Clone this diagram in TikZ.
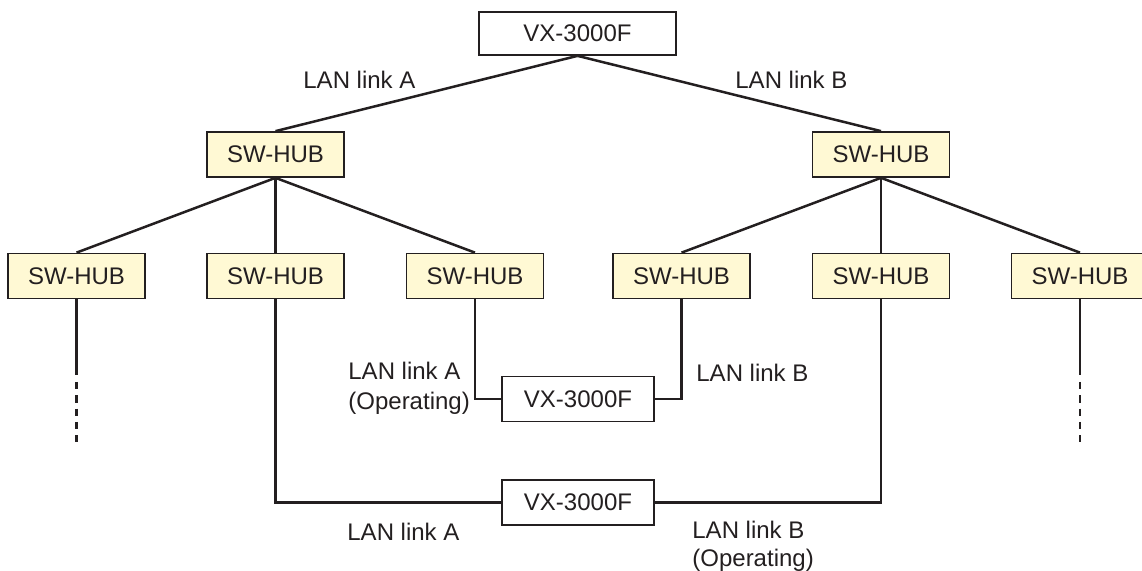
\documentclass[tikz,border=0pt]{standalone}
\usepackage{fontspec}
\setmainfont{Liberation Sans}
\definecolor{hubfill}{HTML}{FFF9D4}
\definecolor{ink}{HTML}{231F20}
\begin{document}
\begin{tikzpicture}[x=0.5pt,y=-0.5pt,
  font=\fontsize{12}{14.5}\selectfont,
  box/.style={draw=ink, line width=0.85pt, inner sep=0pt, minimum height=22.5pt, text=ink},
  hub/.style={box, fill=hubfill, minimum width=68.5pt},
  vx/.style={box, fill=white, minimum width=76pt},
  link/.style={draw=ink, line width=1.25pt},
  dashlink/.style={link, dash pattern=on 3.65pt off 3pt},
  lbl/.style={text=ink, inner sep=0pt, align=left, anchor=west}]
\useasboundingbox (0,0) rectangle (1142,571);

% devices
\node[vx, minimum width=98.5pt, minimum height=21.5pt] (top) at (577.5,33.5) {VX-3000F};
\node[hub] (L) at (275.5,154.5) {SW-HUB};
\node[hub] (R) at (881,154.5) {SW-HUB};
\node[hub] (h1) at (76.5,276) {SW-HUB};
\node[hub] (h2) at (275.5,276) {SW-HUB};
\node[hub] (h3) at (475,276) {SW-HUB};
\node[hub] (h4) at (681.5,276) {SW-HUB};
\node[hub] (h5) at (881,276) {SW-HUB};
\node[hub] (h6) at (1080,276) {SW-HUB};
\node[vx] (mid) at (578,399) {VX-3000F};
\node[vx] (bot) at (578,502.5) {VX-3000F};

% links
\draw[link] (top.south) -- (L.north);
\draw[link] (top.south) -- (R.north);
\draw[link] (L.south) -- (h1.north);
\draw[link] (L.south) -- (h2.north);
\draw[link] (L.south) -- (h3.north);
\draw[link] (R.south) -- (h4.north);
\draw[link] (R.south) -- (h5.north);
\draw[link] (R.south) -- (h6.north);
\draw[link] (h3.south) |- (mid.west);
\draw[link] (h4.south) |- (mid.east);
\draw[link] (h2.south) |- (bot.west);
\draw[link] (h5.south) |- (bot.east);

% open ends
\coordinate (e1) at (76.5,375);
\coordinate (e1a) at (76.5,382);
\coordinate (e1b) at (76.5,442);
\coordinate (e6) at (1080,375);
\coordinate (e6a) at (1080,382);
\coordinate (e6b) at (1080,442);
\draw[link] (h1.south) -- (e1);
\draw[dashlink] (e1a) -- (e1b);
\draw[link] (h6.south) -- (e6);
\draw[dashlink] (e6a) -- (e6b);

% labels
\node[lbl] (la1) at (303,80) {LAN link A};
\node[lbl] (lb1) at (735,80) {LAN link B};
\node[lbl, font=\fontsize{12}{15}\selectfont] (la2) at (348,388) {LAN link A\\(Operating)};
\node[lbl] (lb2) at (696,373) {LAN link B};
\node[lbl] (la3) at (347,532) {LAN link A};
\node[lbl, font=\fontsize{12}{14}\selectfont] (lb3) at (692,546) {LAN link B\\(Operating)};
\end{tikzpicture}
\end{document}
